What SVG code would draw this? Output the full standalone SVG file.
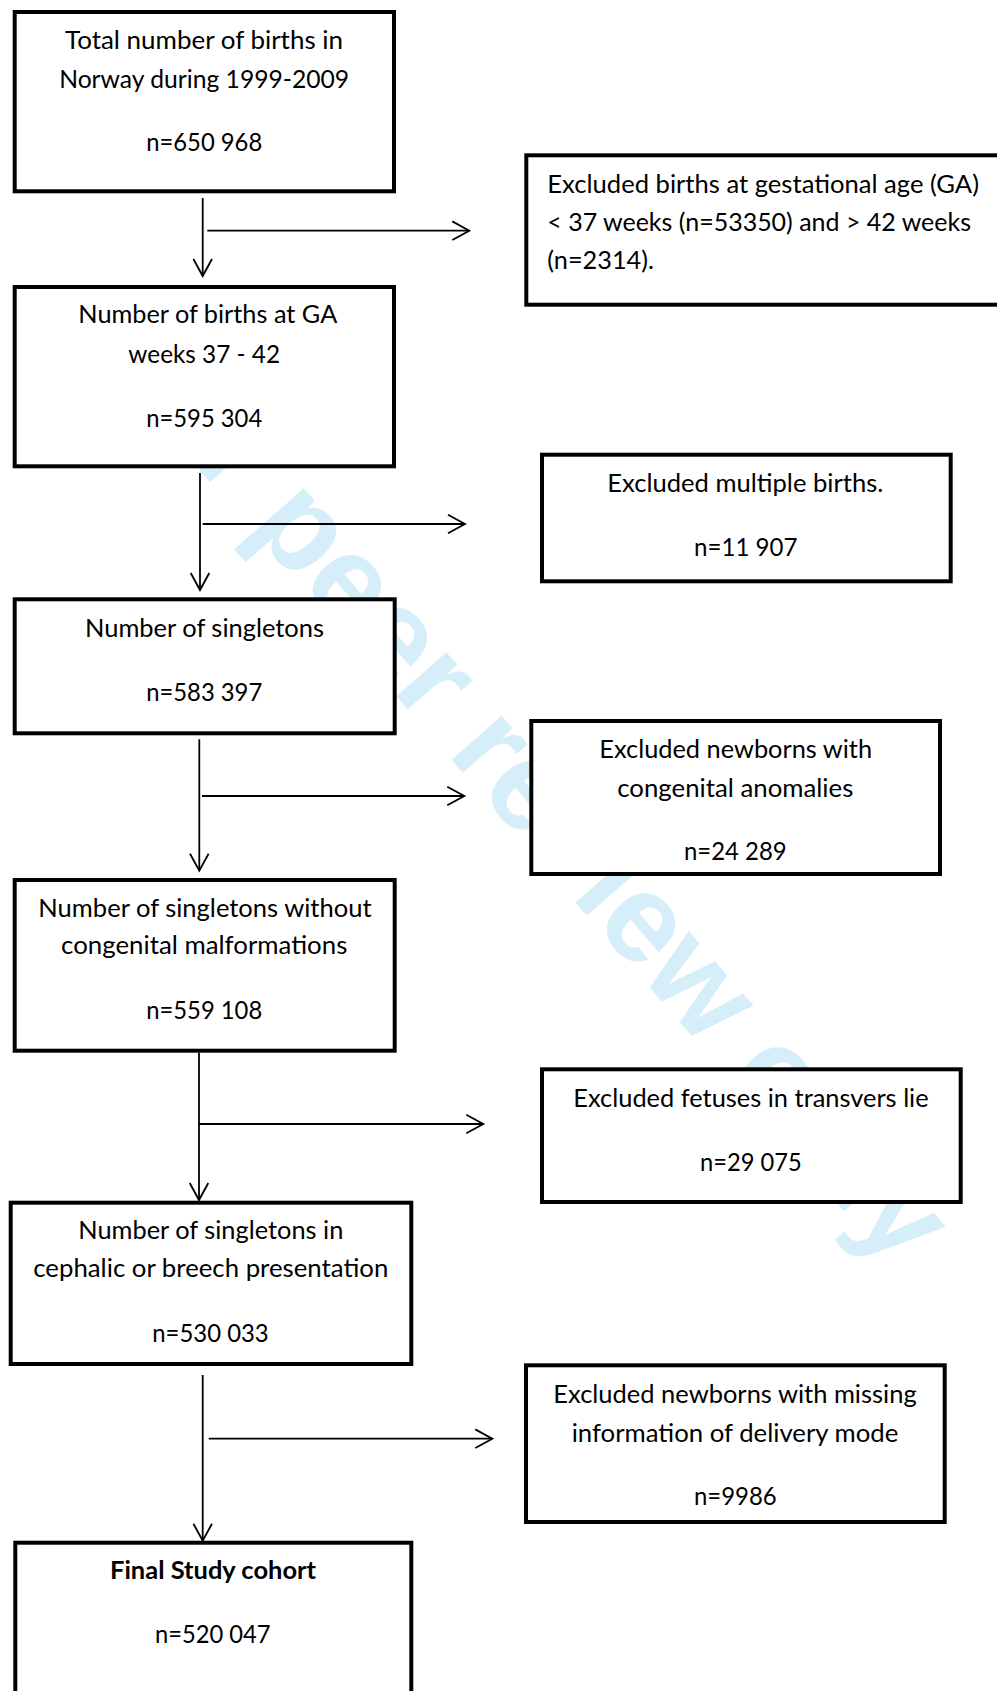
<svg xmlns="http://www.w3.org/2000/svg" width="997" height="1691" viewBox="0 0 997 1691">
<style>
.box{fill:#fff;stroke:#000;stroke-width:4}
.t{font-family:Lato,"Open Sans","Liberation Sans",sans-serif;font-size:24.6px;fill:#000}
.c{text-anchor:middle}
.b{font-weight:bold}
.ln{stroke:#000;stroke-width:1.8;fill:none}
.wm{font-family:"Liberation Sans",Arial,sans-serif;font-weight:bold;font-size:126px;fill:#d6eefa}
</style>
<defs>
<marker id="ah" viewBox="-19 -11 22 22" markerWidth="22" markerHeight="22" refX="0" refY="0" markerUnits="userSpaceOnUse" orient="auto">
<path d="M-17,-9.3 L0,0 L-17,9.3" fill="none" stroke="#000" stroke-width="1.8"/>
</marker>
</defs>
<rect width="997" height="1691" fill="#fff"/>
<text class="wm" x="92" y="346" transform="rotate(49 92 346)">For peer review only</text>
<g id="connectors">
<line class="ln" x1="202.7" y1="198" x2="202.7" y2="276" marker-end="url(#ah)"/>
<line class="ln" x1="207.3" y1="230.7" x2="469.3" y2="230.7" marker-end="url(#ah)"/>
<line class="ln" x1="200" y1="473" x2="200" y2="590" marker-end="url(#ah)"/>
<line class="ln" x1="202.7" y1="524" x2="465" y2="524" marker-end="url(#ah)"/>
<line class="ln" x1="199.3" y1="739.3" x2="199.3" y2="870.7" marker-end="url(#ah)"/>
<line class="ln" x1="202" y1="796" x2="464.3" y2="796" marker-end="url(#ah)"/>
<line class="ln" x1="199" y1="1052.7" x2="199" y2="1200" marker-end="url(#ah)"/>
<line class="ln" x1="199" y1="1124" x2="483.3" y2="1124" marker-end="url(#ah)"/>
<line class="ln" x1="202.7" y1="1375" x2="202.7" y2="1540.7" marker-end="url(#ah)"/>
<line class="ln" x1="208.7" y1="1438.7" x2="492.3" y2="1438.7" marker-end="url(#ah)"/>
</g>
<g id="n1">
<rect class="box" x="14.7" y="12" width="379.3" height="179.3"/>
<text class="t c" x="204" y="49.3" textLength="278" lengthAdjust="spacingAndGlyphs">Total number of births in</text>
<text class="t c" x="204.2" y="87.7" textLength="290" lengthAdjust="spacingAndGlyphs">Norway during 1999-2009</text>
<text class="t c" x="204.2" y="150.7" textLength="116" lengthAdjust="spacingAndGlyphs">n=650 968</text>
</g>
<g id="n2">
<rect class="box" x="14.7" y="287" width="379.3" height="179.3"/>
<text class="t c" x="207.8" y="323.3" textLength="259" lengthAdjust="spacingAndGlyphs">Number of births at GA</text>
<text class="t c" x="204.2" y="362.7" textLength="151.7" lengthAdjust="spacingAndGlyphs">weeks 37 - 42</text>
<text class="t c" x="204.2" y="426.7" textLength="116" lengthAdjust="spacingAndGlyphs">n=595 304</text>
</g>
<g id="e1">
<rect class="box" x="526.3" y="155.3" width="500" height="149.4"/>
<text class="t" x="547.3" y="192.7" textLength="431.7" lengthAdjust="spacingAndGlyphs">Excluded births at gestational age (GA)</text>
<text class="t" x="547.3" y="230.7" textLength="423.7" lengthAdjust="spacingAndGlyphs">&lt; 37 weeks (n=53350) and &gt; 42 weeks</text>
<text class="t" x="547.3" y="269.3" textLength="106.7" lengthAdjust="spacingAndGlyphs">(n=2314).</text>
</g>
<g id="e2">
<rect class="box" x="542" y="454.7" width="408.7" height="126.6"/>
<text class="t c" x="745.3" y="491.7" textLength="276" lengthAdjust="spacingAndGlyphs">Excluded multiple births.</text>
<text class="t c" x="745.7" y="556" textLength="103.3" lengthAdjust="spacingAndGlyphs">n=11 907</text>
</g>
<g id="n3">
<rect class="box" x="14.7" y="599.3" width="380" height="134"/>
<text class="t c" x="204.5" y="636.7" textLength="239" lengthAdjust="spacingAndGlyphs">Number of singletons</text>
<text class="t c" x="204.2" y="700.7" textLength="116" lengthAdjust="spacingAndGlyphs">n=583 397</text>
</g>
<g id="e3">
<rect class="box" x="531.3" y="721" width="408.7" height="153"/>
<text class="t c" x="735.7" y="758.3" textLength="272.7" lengthAdjust="spacingAndGlyphs">Excluded newborns with</text>
<text class="t c" x="735.3" y="796.7" textLength="236" lengthAdjust="spacingAndGlyphs">congenital anomalies</text>
<text class="t c" x="735.3" y="860" textLength="102.7" lengthAdjust="spacingAndGlyphs">n=24 289</text>
</g>
<g id="n4">
<rect class="box" x="14.7" y="880" width="380" height="170.7"/>
<text class="t c" x="205" y="916.7" textLength="333.3" lengthAdjust="spacingAndGlyphs">Number of singletons without</text>
<text class="t c" x="204.2" y="954" textLength="286.3" lengthAdjust="spacingAndGlyphs">congenital malformations</text>
<text class="t c" x="204.2" y="1019.3" textLength="116" lengthAdjust="spacingAndGlyphs">n=559 108</text>
</g>
<g id="e4">
<rect class="box" x="542" y="1069.3" width="418.7" height="132.7"/>
<text class="t c" x="751" y="1106.7" textLength="355.3" lengthAdjust="spacingAndGlyphs">Excluded fetuses in transvers lie</text>
<text class="t c" x="750.8" y="1170.7" textLength="101.7" lengthAdjust="spacingAndGlyphs">n=29 075</text>
</g>
<g id="n5">
<rect class="box" x="10.7" y="1202.7" width="400.6" height="161.3"/>
<text class="t c" x="210.8" y="1239.3" textLength="265" lengthAdjust="spacingAndGlyphs">Number of singletons in</text>
<text class="t c" x="210.8" y="1277.3" textLength="355" lengthAdjust="spacingAndGlyphs">cephalic or breech presentation</text>
<text class="t c" x="210.5" y="1342" textLength="116.4" lengthAdjust="spacingAndGlyphs">n=530 033</text>
</g>
<g id="e5">
<rect class="box" x="526" y="1365.3" width="418.7" height="156.7"/>
<text class="t c" x="735" y="1403.3" textLength="363.3" lengthAdjust="spacingAndGlyphs">Excluded newborns with missing</text>
<text class="t c" x="735" y="1441.7" textLength="326.7" lengthAdjust="spacingAndGlyphs">information of delivery mode</text>
<text class="t c" x="735.3" y="1505" textLength="82.7" lengthAdjust="spacingAndGlyphs">n=9986</text>
</g>
<g id="n6">
<rect class="box" x="15.3" y="1542.7" width="396" height="200"/>
<text class="t c b" x="213" y="1579.3" textLength="206" lengthAdjust="spacingAndGlyphs">Final Study cohort</text>
<text class="t c" x="212.8" y="1643.3" textLength="115.7" lengthAdjust="spacingAndGlyphs">n=520 047</text>
</g>
</svg>
